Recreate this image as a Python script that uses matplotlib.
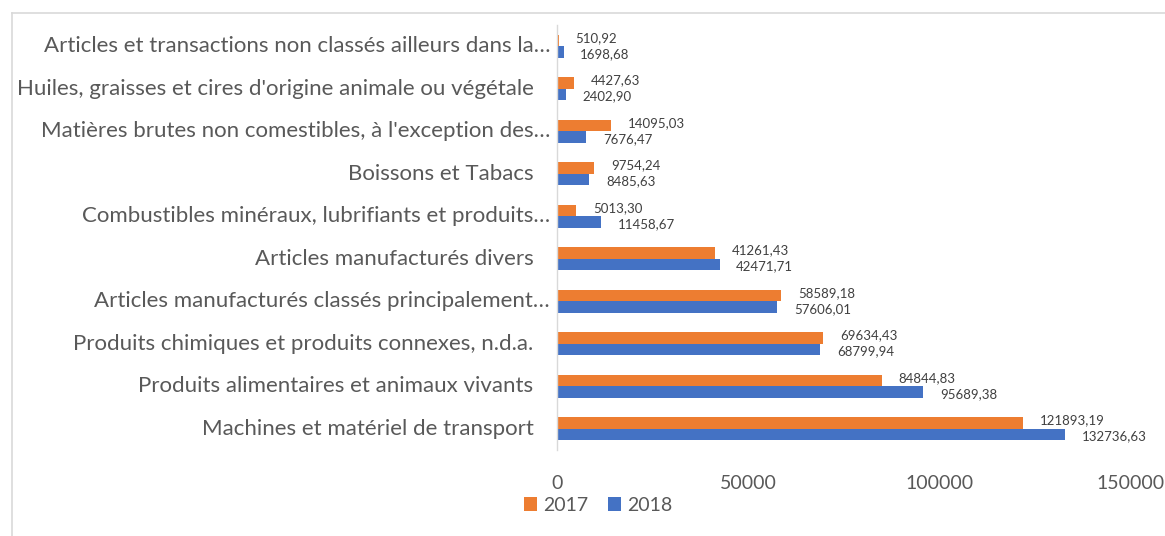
import matplotlib
matplotlib.use("Agg")
import matplotlib.pyplot as plt
from matplotlib.lines import Line2D

plt.rcParams['font.family'] = ['Lato', 'DejaVu Sans']

categories = [
    "Machines et matériel de transport",
    "Produits alimentaires et animaux vivants",
    "Produits chimiques et produits connexes, n.d.a.",
    "Articles manufacturés classés principalement…",
    "Articles manufacturés divers",
    "Combustibles minéraux, lubrifiants et produits…",
    "Boissons et Tabacs",
    "Matières brutes non comestibles, à l'exception des…",
    "Huiles, graisses et cires d'origine animale ou végétale",
    "Articles et transactions non classés ailleurs dans la…",
]
values_2017 = [121893.19, 84844.83, 69634.43, 58589.18, 41261.43,
               5013.30, 9754.24, 14095.03, 4427.63, 510.92]
values_2018 = [132736.63, 95689.38, 68799.94, 57606.01, 42471.71,
               11458.67, 8485.63, 7676.47, 2402.90, 1698.68]
years = ["2017", "2018"]
xticks = [0, 50000, 100000, 150000]

c17 = "#ED7D31"
c18 = "#4472C4"
tc = "#595959"

fig = plt.figure(figsize=(11.65, 5.36), dpi=100)
ax = fig.add_axes([557/1165, 1-450/536, (1131-557)/1165, 425/536])

h = 0.27
ys = list(range(len(categories)))
ax.barh([y + h/2 for y in ys], values_2017, height=h, color=c17, label=years[0])
ax.barh([y - h/2 for y in ys], values_2018, height=h, color=c18, label=years[1])

def fmt(v):
    return f"{v:.2f}".replace(".", ",")

for y, v in zip(ys, values_2017):
    ax.annotate(fmt(v), (v, y + h/2), xytext=(12, 2), textcoords="offset points",
                va="center", ha="left", fontsize=9.5, color="#404040")
for y, v in zip(ys, values_2018):
    ax.annotate(fmt(v), (v, y - h/2), xytext=(12, -1.5), textcoords="offset points",
                va="center", ha="left", fontsize=9.5, color="#404040")

ax.set_xlim(0, 150000)
ax.set_ylim(-0.5, len(categories) - 0.5)
ax.set_yticks(ys)
ax.set_yticklabels([])
ytrans = ax.get_yaxis_transform()
for y, lab in zip(ys, categories):
    off = -5 if lab.endswith("…") else -17
    ax.annotate(lab, (0, y), xycoords=ytrans, xytext=(off, 0), textcoords="offset points",
                ha="right", va="center", fontsize=16, color=tc, annotation_clip=False)
ax.set_xticks(xticks)
ax.set_xticklabels([str(t) for t in xticks], fontsize=14, color=tc)
ax.tick_params(axis="both", length=0)
ax.tick_params(axis="x", pad=18)
for s in ["top", "right", "bottom"]:
    ax.spines[s].set_visible(False)
ax.spines["left"].set_color("#D9D9D9")
ax.spines["left"].set_linewidth(1)

fig.legend(loc="center", bbox_to_anchor=(598/1165, 1-505.5/536), ncol=2, frameon=False,
           fontsize=14, handlelength=0.7, handleheight=0.7, handletextpad=0.3,
           columnspacing=1.0, labelcolor=tc, borderpad=0)

# chart border
fig.add_artist(Line2D([12/1165, 1.0], [1-13/536, 1-13/536], transform=fig.transFigure,
                      color="#D9D9D9", lw=1.2))
fig.add_artist(Line2D([12/1165, 12/1165], [0, 1-13/536], transform=fig.transFigure,
                      color="#D9D9D9", lw=1.2))

fig.savefig("out.png", dpi=100, facecolor="white")
